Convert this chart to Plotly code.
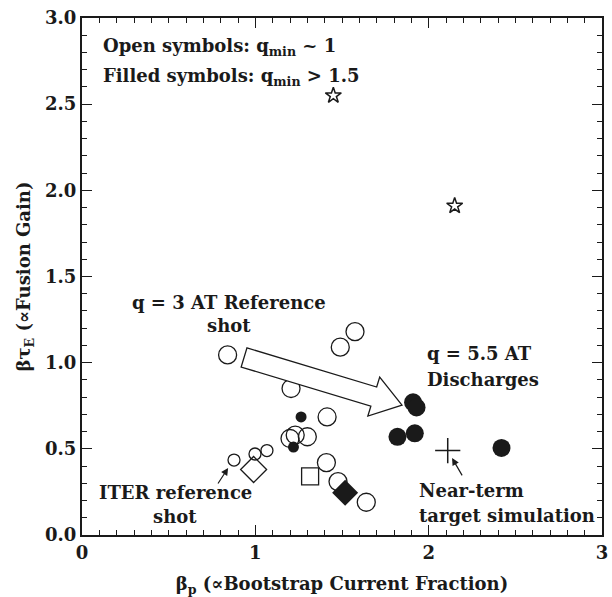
import math
import plotly.graph_objects as go

# ---- data (beta_p, beta*tau_E) ----
open_big_x = [0.84, 1.575, 1.49, 1.206, 1.414, 1.20, 1.23, 1.30, 1.41, 1.477, 1.64]
open_big_y = [1.045, 1.18, 1.09, 0.85, 0.685, 0.56, 0.58, 0.57, 0.42, 0.31, 0.19]
open_small_x = [0.877, 0.998, 1.067]
open_small_y = [0.435, 0.47, 0.49]
filled_small_x = [1.264, 1.22]
filled_small_y = [0.685, 0.51]
filled_big_x = [1.91, 1.93, 1.82, 1.92, 2.42]
filled_big_y = [0.77, 0.74, 0.57, 0.59, 0.505]
open_diamond_x = [0.99]
open_diamond_y = [0.38]
filled_diamond_x = [1.518]
filled_diamond_y = [0.245]
open_square_x = [1.316]
open_square_y = [0.34]
star_x = [1.45, 2.15]
star_y = [2.55, 1.91]
target_x = [2.11]
target_y = [0.49]

x_ticks = [0, 1, 2, 3]
y_ticks = [0.0, 0.5, 1.0, 1.5, 2.0, 2.5, 3.0]

# block arrow (q=3 reference -> q=5.5 discharges)
arrow_tail = (0.935, 1.030)
arrow_tip = (1.846, 0.754)

FONT = "DejaVu Serif"
FS = 18
BLACK = "#1a1a1a"

fig = go.Figure()

def add(x, y, symbol, size, lw=1.3, color=BLACK):
    fig.add_trace(go.Scatter(
        x=x, y=y, mode="markers", showlegend=False, hoverinfo="skip",
        marker=dict(symbol=symbol, size=size, color=color,
                    line=dict(color=color, width=lw))))

add(open_big_x, open_big_y, "circle-open", 18)
add(open_small_x, open_small_y, "circle-open", 12)
add(open_diamond_x, open_diamond_y, "diamond-open", 20)
add(open_square_x, open_square_y, "square-open", 17)
add(filled_small_x, filled_small_y, "circle", 11, lw=0)
add(filled_big_x, filled_big_y, "circle", 18, lw=0)
add(filled_diamond_x, filled_diamond_y, "diamond", 20, lw=0)
add(star_x, star_y, "star-open", 12, lw=1.5)
add(target_x, target_y, "cross-thin-open", 18, lw=1.5)

# block arrow polygon
tx, ty = arrow_tail
hx, hy = arrow_tip
L = math.hypot(hx - tx, hy - ty)
ux, uy = (hx - tx) / L, (hy - ty) / L
px_, py_ = -uy, ux
sw, hw, hl = 0.058, 0.118, 0.17
bx, by = hx - ux * hl, hy - uy * hl
pts = [
    (tx + px_ * sw, ty + py_ * sw),
    (bx + px_ * sw, by + py_ * sw),
    (bx + px_ * hw, by + py_ * hw),
    (hx, hy),
    (bx - px_ * hw, by - py_ * hw),
    (bx - px_ * sw, by - py_ * sw),
    (tx - px_ * sw, ty - py_ * sw),
]
path = "M " + " L ".join(f"{a:.4f},{b:.4f}" for a, b in pts) + " Z"
fig.add_shape(type="path", path=path, xref="x", yref="y",
              line=dict(color=BLACK, width=1.3), fillcolor="white", layer="above")

def txt(x, y, s, xanchor="center", size=FS):
    fig.add_annotation(x=x, y=y, xref="x", yref="y", text=f"<b>{s}</b>",
                       showarrow=False, xanchor=xanchor, yanchor="middle",
                       align=xanchor if xanchor != "center" else "center",
                       font=dict(family=FONT, size=size, color=BLACK))

txt(0.11, 2.83, "Open symbols: q<sub>min</sub> ~ 1", xanchor="left")
txt(0.11, 2.655, "Filled symbols: q<sub>min</sub> > 1.5", xanchor="left")
txt(0.85, 1.35, "q = 3 AT Reference")
txt(0.85, 1.215, "shot")
txt(1.98, 1.055, "q = 5.5 AT", xanchor="left")
txt(1.98, 0.905, "Discharges", xanchor="left")
txt(0.537, 0.245, "ITER reference")
txt(0.537, 0.105, "shot")
txt(1.935, 0.26, "Near-term", xanchor="left")
txt(1.935, 0.115, "target simulation", xanchor="left")

# small pointer arrows
fig.add_annotation(x=0.843, y=0.389, ax=0.779, ay=0.290, xref="x", yref="y",
                   axref="x", ayref="y", text="", showarrow=True,
                   arrowhead=2, arrowsize=1.2, arrowwidth=1.2, arrowcolor=BLACK)
fig.add_annotation(x=2.135, y=0.447, ax=2.198, ay=0.337, xref="x", yref="y",
                   axref="x", ayref="y", text="", showarrow=True,
                   arrowhead=2, arrowsize=1.2, arrowwidth=1.2, arrowcolor=BLACK)

axis_common = dict(
    showgrid=False, zeroline=False, showline=True, linewidth=2, linecolor=BLACK,
    mirror="allticks", ticks="inside", ticklen=10, tickwidth=1.3, tickcolor=BLACK,
    tickfont=dict(family=FONT, size=FS, color=BLACK, weight="bold"),
    minor=dict(ticks="inside", ticklen=5, tickwidth=1.1, tickcolor=BLACK),
    automargin=False,
)

fig.update_xaxes(range=[0, 3], tickvals=x_ticks, ticktext=[str(v) for v in x_ticks],
                 minor_dtick=0.1,
                 title=dict(text="<b>β<sub>p</sub> (∝Bootstrap Current Fraction)</b>",
                            font=dict(family=FONT, size=FS, color=BLACK), standoff=17),
                 **axis_common)
fig.update_yaxes(range=[0, 3], tickvals=y_ticks, ticktext=[f"{v:.1f}" for v in y_ticks],
                 minor_dtick=0.1,
                 title=dict(text="<b>βτ<sub>E</sub> (∝Fusion Gain)</b>",
                            font=dict(family=FONT, size=FS, color=BLACK), standoff=10),
                 **axis_common)

fig.update_layout(
    width=612, height=597,
    margin=dict(l=82, r=10, t=18, b=62),
    paper_bgcolor="white", plot_bgcolor="white",
    font=dict(family=FONT, color=BLACK),
)

fig.write_html("out.html")
